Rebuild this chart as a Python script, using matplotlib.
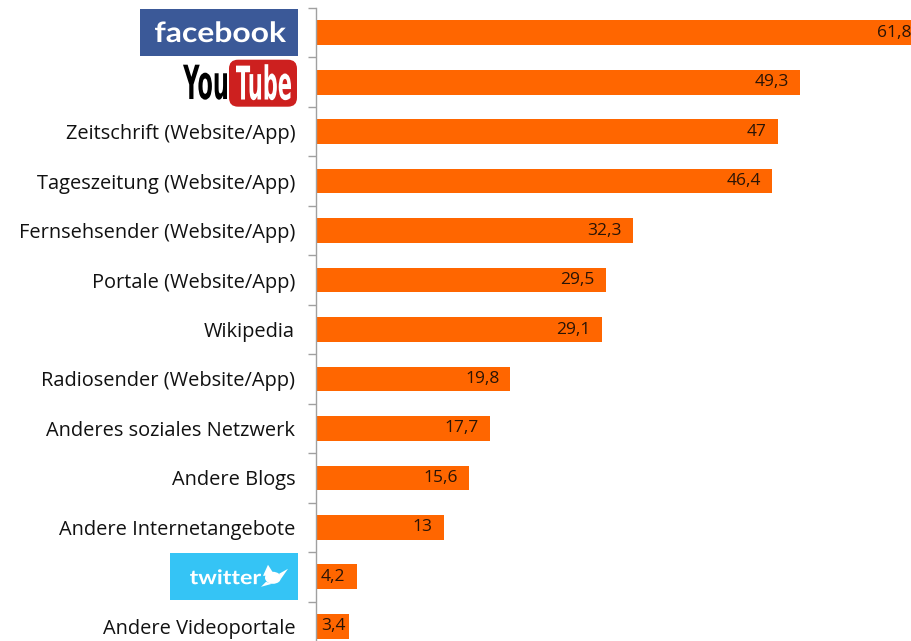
import matplotlib.pyplot as plt
import matplotlib.transforms as mtransforms
from matplotlib.font_manager import FontProperties
from matplotlib.patches import FancyBboxPatch, Rectangle, Polygon, Ellipse, PathPatch
from matplotlib.textpath import TextPath

plt.rcParams['font.family'] = ['Open Sans', 'DejaVu Sans']

# categories, top to bottom
categories = ["facebook", "YouTube", "Zeitschrift (Website/App)", "Tageszeitung (Website/App)",
              "Fernsehsender (Website/App)", "Portale (Website/App)", "Wikipedia",
              "Radiosender (Website/App)", "Anderes soziales Netzwerk", "Andere Blogs",
              "Andere Internetangebote", "twitter", "Andere Videoportale"]
values = [61.8, 49.3, 47, 46.4, 32.3, 29.5, 29.1, 19.8, 17.7, 15.6, 13, 4.2, 3.4]
value_labels = ["61,8", "49,3", "47", "46,4", "32,3", "29,5", "29,1", "19,8", "17,7",
                "15,6", "13", "4,2", "3,4"]
logo_rows = ["facebook", "YouTube", "twitter"]

bar_color = "#FF6600"
axis_grey = "#A0A0A0"

fig = plt.figure(figsize=(9.11, 6.41), dpi=100)
W, H = 911, 641
# axis area runs a little past the right and bottom edge, like the source
ax = fig.add_axes([316 / W, (641 - 651) / H, 609 / W, 643 / H])

pos = list(range(len(categories)))
ax.barh(pos, values, height=0.5, color=bar_color, zorder=2)
ax.set_xlim(0, 62)
ax.set_ylim(len(categories) - 0.5, -0.5)

for p, v, lab in zip(pos, values, value_labels):
    if v < 5:
        # too short for an inside-end label: start just right of the axis
        ax.annotate(lab, (0, p), xytext=(3.5, 0), textcoords="offset points",
                    ha="left", va="center", fontsize=12.5, color="#2a1406")
    else:
        ax.annotate(lab, (v, p), xytext=(-8, 0), textcoords="offset points",
                    ha="right", va="center", fontsize=12.5, color="#2a1406")

# boundary ticks, labels on minor ticks at bar centres
ax.set_yticks([p - 0.5 for p in pos] + [len(pos) - 0.5])
ax.set_yticklabels([])
ax.set_yticks(pos, minor=True)
ax.set_yticklabels([c if c not in logo_rows else "" for c in categories], minor=True,
                   fontsize=14.4, color="#111111")
ax.tick_params(axis="y", which="major", length=6, width=1, color=axis_grey, direction="out")
ax.tick_params(axis="y", which="minor", length=0, pad=15)
ax.set_xticks([])
for s in ["top", "right", "bottom"]:
    ax.spines[s].set_visible(False)
ax.spines["left"].set_color(axis_grey)
ax.spines["left"].set_linewidth(1)

# ---- logos, drawn in pixel units (display coords at dpi 100) ----
ident = mtransforms.IdentityTransform()


def row_y(name):
    return ax.transData.transform((0, categories.index(name)))[1]


def fit_text(s, x0, x1, yc, h, color, family="DejaVu Sans"):
    # text outline squeezed into a given pixel box
    tp = TextPath((0, 0), s, size=100, prop=FontProperties(family=family, weight="bold"))
    bb = tp.get_extents()
    t = (mtransforms.Affine2D().translate(-bb.x0, -bb.y0)
         .scale((x1 - x0) / bb.width, h / bb.height).translate(x0, yc - h / 2))
    fig.patches.append(PathPatch(t.transform_path(tp), transform=ident, facecolor=color,
                                 edgecolor="none", figure=fig))


def box(x0, x1, yc, h, color, rounding=0):
    if rounding:
        p = FancyBboxPatch((x0, yc - h / 2), x1 - x0, h,
                           boxstyle="round,pad=0,rounding_size=%d" % rounding,
                           transform=ident, facecolor=color, edgecolor="none", figure=fig)
    else:
        p = Rectangle((x0, yc - h / 2), x1 - x0, h, transform=ident,
                      facecolor=color, edgecolor="none", figure=fig)
    fig.patches.append(p)


# facebook
yf = row_y("facebook")
box(140, 298, yf, 47, "#3B5998")
fit_text("facebook", 155, 286, yf + 1, 21, "white", family="Lato")

# YouTube
yy = row_y("YouTube")
fit_text("You", 183, 227, yy, 35, "black")
box(229, 297, yy - 1, 47, "#CD201F", rounding=9)
fit_text("Tube", 236, 291, yy, 36, "white")

# twitter
yt = row_y("twitter")
box(170, 298, yt, 47, "#35C4F5")
fit_text("twitter", 190, 261, yt, 15, "white", family="Lato")
# small bird next to the word
bird = [
    Ellipse((273, yt - 1), 16, 12),
    Polygon([(263, yt + 1), (268, yt + 12), (275, yt + 1)]),
    Polygon([(279, yt + 3), (288, yt + 8), (281, yt - 2)]),
    Polygon([(266, yt - 5), (261, yt - 10), (272, yt - 7)]),
]
for b in bird:
    b.set_transform(ident)
    b.set_facecolor("white")
    b.set_edgecolor("none")
    b.set_figure(fig)
    fig.patches.append(b)

fig.savefig("out.png", dpi=100)
